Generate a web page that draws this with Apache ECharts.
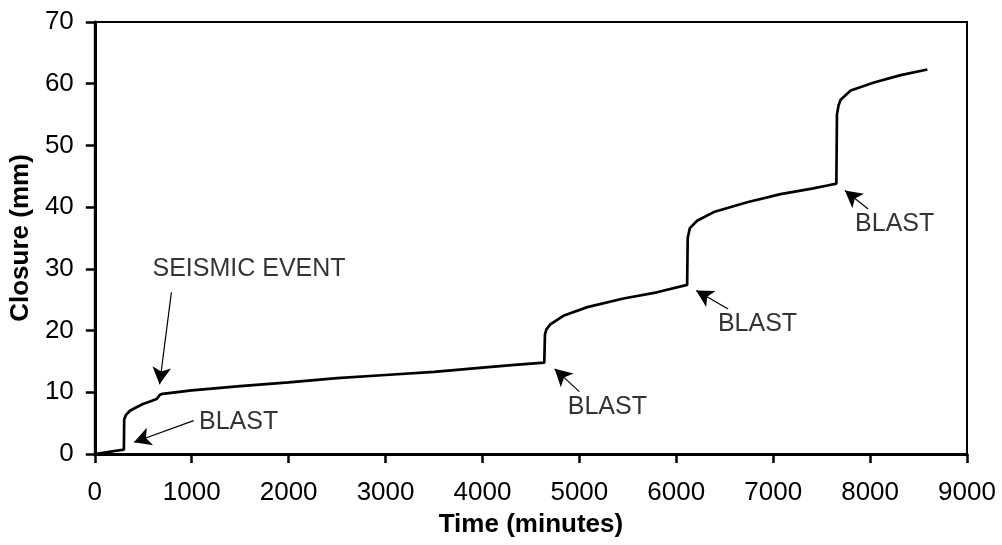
<!DOCTYPE html>
<html><head><meta charset="utf-8">
<script src="https://cdn.jsdelivr.net/npm/echarts@6/dist/echarts.min.js"></script>
<style>html,body{margin:0;padding:0;background:#fff}#c{width:1002px;height:545px}</style>
</head><body><div id="c"></div>
<script>
// Time (minutes) and closure (mm)
const timeMin = [0, 300, 303, 320, 362, 420, 496, 570, 637, 655, 672, 700, 1000, 1500, 2000, 2500, 3000, 3500, 4000, 4300, 4638, 4645, 4660, 4700, 4835, 5082, 5455, 5800, 6112, 6118, 6140, 6215, 6387, 6732, 7076, 7400, 7559, 7652, 7658, 7675, 7696, 7800, 8040, 8316, 8591];
const closureMm = [0, 0.7, 5.6, 6.3, 7.0, 7.5, 8.1, 8.5, 8.9, 9.1, 9.6, 9.75, 10.3, 11.0, 11.6, 12.3, 12.8, 13.3, 14.0, 14.4, 14.8, 19.4, 20.2, 21.0, 22.4, 23.8, 25.2, 26.2, 27.4, 35.0, 36.6, 37.8, 39.2, 40.8, 42.1, 43.0, 43.5, 43.8, 55.0, 56.5, 57.4, 58.9, 60.2, 61.4, 62.3];

const xTicks = [0, 1000, 2000, 3000, 4000, 5000, 6000, 7000, 8000, 9000];
const yTicks = [0, 10, 20, 30, 40, 50, 60, 70];

// annotations: text, text anchor (left edge, vertical centre), arrow start, arrow tip
const annText = ['SEISMIC EVENT', 'BLAST', 'BLAST', 'BLAST', 'BLAST'];
const annTextAt = [[595, 30.0], [1075, 5.2], [4880, 7.6], [6430, 21.1], [7845, 37.3]];
const annArrowFrom = [[790, 26.2], [1020, 5.4], [5000, 10.1], [6535, 23.5], [7980, 39.7]];
const annArrowTo = [[668, 11.3], [404, 1.9], [4745, 13.8], [6205, 26.5], [7740, 42.7]];

const lineData = timeMin.map((t, i) => [t, closureMm[i]]);
const font = '"Liberation Sans", Arial, sans-serif';

const chart = echarts.init(document.getElementById('c'), null, {renderer: 'canvas'});
chart.setOption({
  animation: false,
  backgroundColor: '#fff',
  grid: {left: 94, right: 35, top: 22, bottom: 91, show: true, borderColor: '#000', borderWidth: 2, containLabel: false},
  xAxis: {
    type: 'value', min: xTicks[0], max: xTicks[xTicks.length - 1], interval: 1000,
    name: 'Time (minutes)', nameLocation: 'middle', nameGap: 58,
    nameTextStyle: {fontFamily: font, fontSize: 26, fontWeight: 'bold', color: '#000'},
    axisLine: {lineStyle: {color: '#000', width: 3}},
    axisTick: {show: true, length: 9, lineStyle: {color: '#000', width: 2.5}},
    axisLabel: {fontFamily: font, fontSize: 26, color: '#000', margin: 26, formatter: v => String(v)},
    splitLine: {show: false}
  },
  yAxis: {
    type: 'value', min: yTicks[0], max: yTicks[yTicks.length - 1], interval: 10,
    name: 'Closure (mm)', nameLocation: 'middle', nameGap: 59,
    nameTextStyle: {fontFamily: font, fontSize: 26, fontWeight: 'bold', color: '#000'},
    axisLine: {lineStyle: {color: '#000', width: 3}},
    axisTick: {show: true, length: 9, lineStyle: {color: '#000', width: 2.5}},
    axisLabel: {fontFamily: font, fontSize: 26, color: '#000', margin: 21, formatter: v => String(v)},
    splitLine: {show: false}
  },
  series: [
    {
      type: 'line', data: lineData, showSymbol: false, symbol: 'none',
      lineStyle: {color: '#000', width: 2.7}, silent: true,
      markLine: {
        silent: true, symbol: ['none', 'arrow'], symbolSize: [14, 17],
        lineStyle: {color: '#000', width: 1.2, type: 'solid'},
        label: {show: false},
        data: annArrowFrom.map((f, i) => [{coord: f}, {coord: annArrowTo[i]}])
      }
    },
    {
      type: 'scatter', symbolSize: 0, silent: true,
      data: annTextAt.map((p, i) => ({value: p, name: annText[i]})),
      label: {show: true, position: 'right', distance: 0, formatter: '{b}', fontFamily: font, fontSize: 25, color: '#000'}
    }
  ]
});
</script></body></html>
